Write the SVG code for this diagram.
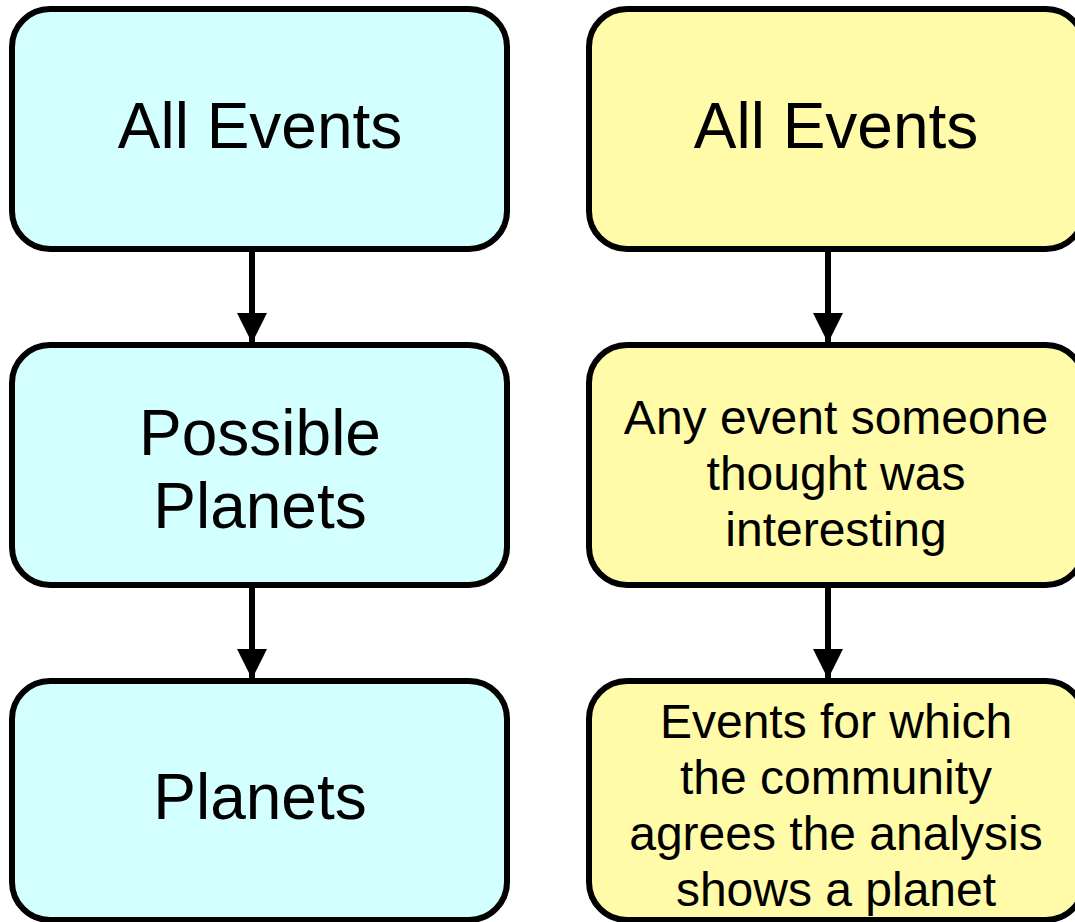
<svg xmlns="http://www.w3.org/2000/svg" width="1075" height="922" viewBox="0 0 1075 922">
<style>
.box{stroke:#000;stroke-width:6}
.c{fill:#D3FFFF}
.y{fill:#FFFBA8}
.big{font-family:"Liberation Sans",Arial,sans-serif;font-size:64px;fill:#000;text-anchor:middle}
.sm{font-family:"Liberation Sans",Arial,sans-serif;font-size:48px;fill:#000;text-anchor:middle}
.ln{stroke:#000;stroke-width:6;fill:none}
</style>
<defs>
<marker id="ah" markerUnits="userSpaceOnUse" markerWidth="30" markerHeight="30" refX="30" refY="15" orient="auto" viewBox="0 0 30 30">
<path d="M0,0 L30,15 L0,30 Z" fill="#000"/>
</marker>
</defs>
<rect width="1075" height="922" fill="#fff"/>
<g id="connectors">
<line class="ln" x1="252" y1="249" x2="252" y2="343" marker-end="url(#ah)"/>
<line class="ln" x1="252" y1="585" x2="252" y2="679" marker-end="url(#ah)"/>
<line class="ln" x1="828" y1="249" x2="828" y2="343" marker-end="url(#ah)"/>
<line class="ln" x1="828" y1="585" x2="828" y2="679" marker-end="url(#ah)"/>
</g>
<g id="left1">
<rect class="box c" x="12" y="9" width="495" height="240" rx="38"/>
<text class="big" x="260" y="148">All Events</text>
</g>
<g id="left2">
<rect class="box c" x="12" y="345" width="495" height="240" rx="38"/>
<text class="big" x="260" y="455">Possible</text>
<text class="big" x="260" y="528">Planets</text>
</g>
<g id="left3">
<rect class="box c" x="12" y="681" width="495" height="239" rx="38"/>
<text class="big" x="260" y="819">Planets</text>
</g>
<g id="right1">
<rect class="box y" x="589" y="9" width="495" height="240" rx="38"/>
<text class="big" x="836" y="148">All Events</text>
</g>
<g id="right2">
<rect class="box y" x="589" y="345" width="495" height="240" rx="38"/>
<text class="sm" x="836" y="434">Any event someone</text>
<text class="sm" x="836" y="490">thought was</text>
<text class="sm" x="836" y="546">interesting</text>
</g>
<g id="right3">
<rect class="box y" x="589" y="681" width="495" height="239" rx="38"/>
<text class="sm" x="836" y="738">Events for which</text>
<text class="sm" x="836" y="794">the community</text>
<text class="sm" x="836" y="850">agrees the analysis</text>
<text class="sm" x="836" y="906">shows a planet</text>
</g>
</svg>
